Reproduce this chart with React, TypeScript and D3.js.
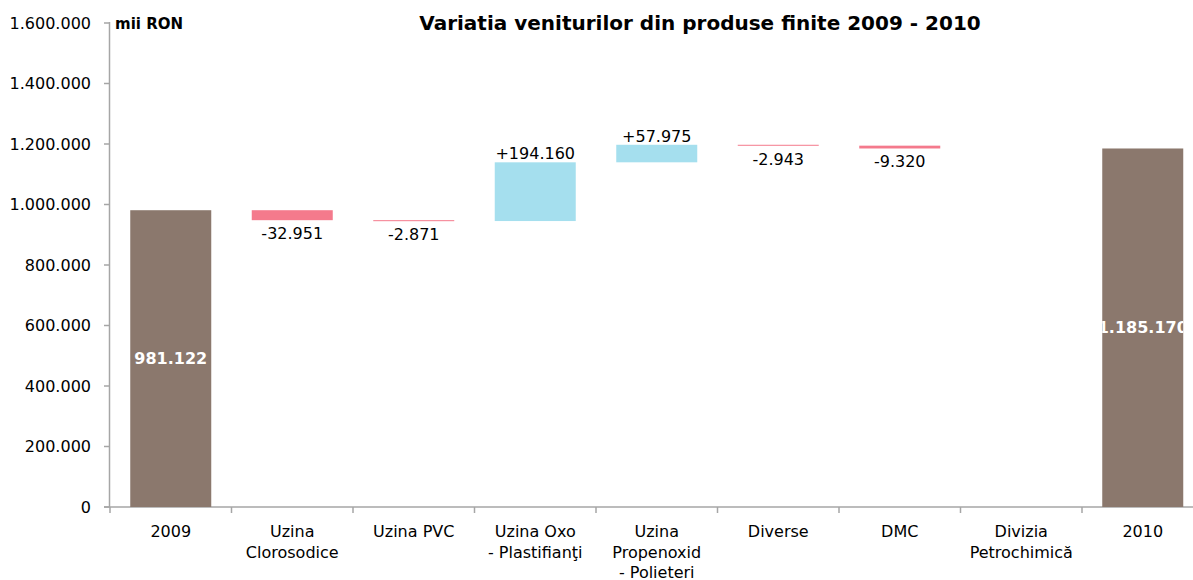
import React from 'react';
import * as d3 from 'd3';

const categories = [
  '2009',
  'Uzina\nClorosodice',
  'Uzina PVC',
  'Uzina Oxo\n- Plastifianţi',
  'Uzina\nPropenoxid\n- Polieteri',
  'Diverse',
  'DMC',
  'Divizia\nPetrochimică',
  '2010',
];
// first and last are totals, the rest are changes
const values = [981122, -32951, -2871, 194160, 57975, -2943, -9320, 0, 1185170];
const isTotal = [true, false, false, false, false, false, false, false, true];
const yTicks = [0, 200000, 400000, 600000, 800000, 1000000, 1200000, 1400000, 1600000];

const W = 1193;
const H = 580;
const left = 110;
const bottom = 507;
const top = 23;
const step = 121.5;

const font = '"DejaVu Sans", Verdana, sans-serif';
const totalColor = '#8b786d';
const negColor = '#f47a8c';
const posColor = '#a5dfee';
const axisColor = '#a6a6a6';

const ro = d3.formatLocale({ decimal: ',', thousands: '.', grouping: [3], currency: ['', ''], minus: '-' });
const fmt = ro.format(',d');

const App = () => {
  const x = d3.scaleBand<string>()
    .domain(categories)
    .range([left, left + step * categories.length])
    .paddingInner(1 / 3)
    .paddingOuter(1 / 6);

  const y = d3.scaleLinear().domain([0, 1600000]).range([bottom, top]);

  // running base for the floating bars
  let run = 0;
  const bars = values.map((v, i) => {
    let y0, y1;
    if (isTotal[i]) {
      y0 = 0;
      y1 = v;
      run = v;
    } else {
      y0 = run;
      y1 = run + v;
      run = y1;
    }
    return { cat: categories[i], v, lo: Math.min(y0, y1), hi: Math.max(y0, y1), total: isTotal[i] };
  });

  const bw = x.bandwidth();

  return (
    <svg width={W} height={H} style={{ position: 'absolute', left: 0, top: 0, fontFamily: font }}>
      <defs>
        {bars.map((b, i) => b.total ? (
          <clipPath id={'clip' + i} key={i}>
            <rect x={x(b.cat)} y={y(b.hi)} width={bw} height={y(b.lo) - y(b.hi)} />
          </clipPath>
        ) : null)}
      </defs>

      <text x={700} y={30} textAnchor="middle" fontSize={20} fontWeight="bold" fill="#000">
        Variatia veniturilor din produse finite 2009 - 2010
      </text>
      <text x={115} y={29} fontSize={15} fontWeight="bold" fill="#000">mii RON</text>

      {/* y axis */}
      <line x1={left - 0.5} x2={left - 0.5} y1={top - 1} y2={bottom} stroke={axisColor} strokeWidth={1.5} />
      {yTicks.map((t) => (
        <g key={t}>
          <line x1={left - 6} x2={left} y1={y(t)} y2={y(t)} stroke={axisColor} strokeWidth={1.5} />
          <text x={91} y={y(t)} dy="0.35em" textAnchor="end" fontSize={16} fill="#000">{fmt(t)}</text>
        </g>
      ))}

      {/* x axis */}
      <line x1={left - 6} x2={W} y1={bottom} y2={bottom} stroke={axisColor} strokeWidth={1.5} />
      {categories.map((c, i) => (
        <line key={c} x1={left + step * i} x2={left + step * i} y1={bottom} y2={bottom + 6} stroke={axisColor} strokeWidth={1.5} />
      ))}
      {categories.map((c) => (
        <text key={c} x={(x(c) ?? 0) + bw / 2} y={537} textAnchor="middle" fontSize={16} fill="#000">
          {c.split('\n').map((line, j) => (
            <tspan key={j} x={(x(c) ?? 0) + bw / 2} dy={j === 0 ? 0 : 20.5}>{line}</tspan>
          ))}
        </text>
      ))}

      {/* bars */}
      {bars.map((b, i) => {
        if (b.v === 0) return null;
        const color = b.total ? totalColor : b.v < 0 ? negColor : posColor;
        const bx = x(b.cat) ?? 0;
        return (
          <rect key={'b' + i} x={bx} y={y(b.hi)} width={bw} height={Math.max(1, y(b.lo) - y(b.hi))} fill={color} />
        );
      })}

      {/* labels */}
      {bars.map((b, i) => {
        if (b.v === 0) return null;
        const cx = (x(b.cat) ?? 0) + bw / 2;
        if (b.total) {
          return (
            <text key={'l' + i} x={cx} y={(y(b.hi) + y(b.lo)) / 2} dy="0.35em" textAnchor="middle"
              fontSize={16} fontWeight="bold" fill="#fff" clipPath={`url(#clip${i})`}>
              {fmt(b.v)}
            </text>
          );
        }
        if (b.v > 0) {
          return (
            <text key={'l' + i} x={cx} y={y(b.hi) - 3} textAnchor="middle" fontSize={16} fill="#000">
              {'+' + fmt(b.v)}
            </text>
          );
        }
        return (
          <text key={'l' + i} x={cx} y={y(b.lo) + 19} textAnchor="middle" fontSize={16} fill="#000">
            {fmt(b.v)}
          </text>
        );
      })}
    </svg>
  );
};

export default App;
